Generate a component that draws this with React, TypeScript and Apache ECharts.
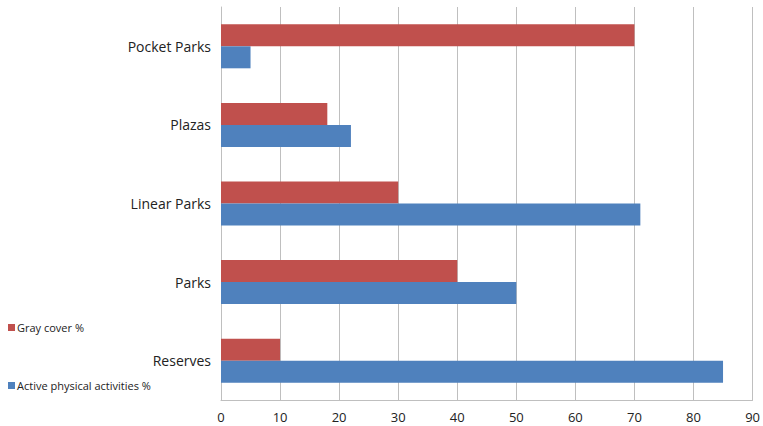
import React, { useEffect, useRef } from "react";
import * as echarts from "echarts";

const categories = ["Reserves", "Parks", "Linear Parks", "Plazas", "Pocket Parks"];
const grayCover = [10, 40, 30, 18, 70];
const activePhysical = [85, 50, 71, 22, 5];
const xTicks = [0, 90, 10];

export default function App() {
  const ref = useRef<HTMLDivElement>(null);
  useEffect(() => {
    const chart = echarts.init(ref.current!, null, { renderer: "svg" });
    const font = "'Open Sans', 'Liberation Sans', sans-serif";
    chart.setOption({
      animation: false,
      backgroundColor: "#ffffff",
      grid: { left: 221, right: 10, top: 7, bottom: 26 },
      legend: {
        orient: "vertical",
        left: 3,
        top: 317,
        itemGap: 47,
        itemWidth: 7,
        itemHeight: 7,
        icon: "rect",
        data: ["Gray cover %", "Active physical activities %"],
        textStyle: { fontSize: 11, color: "#222", fontFamily: font, padding: [0, 0, 0, -3] },
      },
      xAxis: {
        type: "value",
        min: xTicks[0],
        max: xTicks[1],
        interval: xTicks[2],
        axisLine: { show: true, lineStyle: { color: "#bfbfbf" } },
        axisTick: { show: false },
        splitLine: { show: true, lineStyle: { color: "#bfbfbf", width: 1 } },
        axisLabel: { fontSize: 13, color: "#222", fontFamily: font, margin: 10 },
      },
      yAxis: {
        type: "category",
        data: categories,
        axisLine: { show: true, lineStyle: { color: "#bfbfbf" } },
        axisTick: { show: false },
        axisLabel: { fontSize: 14, color: "#222", fontFamily: font, margin: 10 },
      },
      series: [
        {
          name: "Gray cover %",
          type: "bar",
          data: grayCover,
          itemStyle: { color: "#C0504D" },
          barGap: "0%",
          barCategoryGap: "44%",
        },
        {
          name: "Active physical activities %",
          type: "bar",
          data: activePhysical,
          itemStyle: { color: "#4F81BD" },
          barGap: "0%",
          barCategoryGap: "44%",
        },
      ],
    });
    return () => chart.dispose();
  }, []);
  return <div ref={ref} style={{ width: 763, height: 426, position: "absolute", left: 0, top: 0 }} />;
}
